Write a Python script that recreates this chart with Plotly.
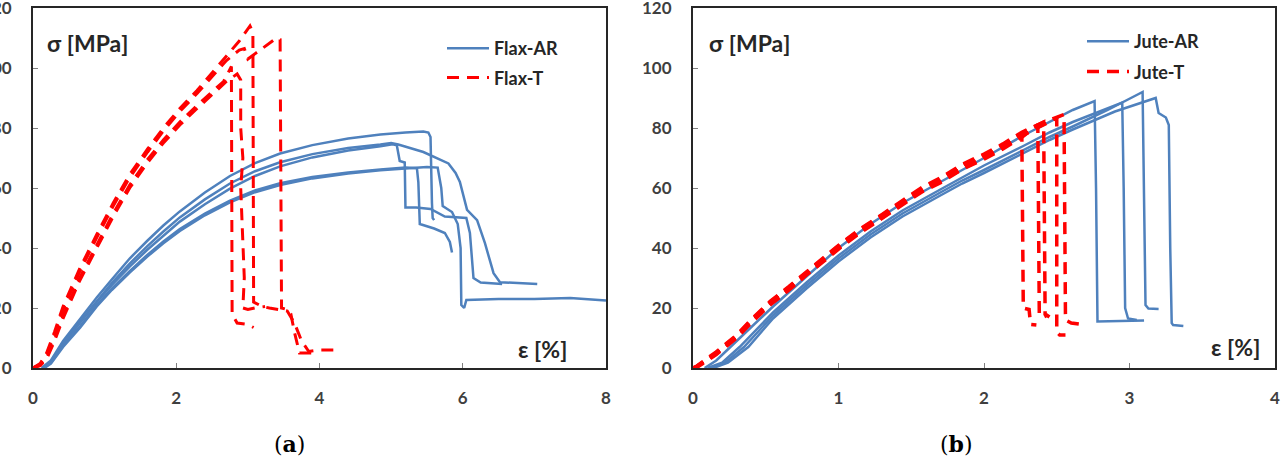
import plotly.graph_objects as go

W, H = 1285, 463

# ---------------- (a) Flax ----------------
flax_ar1_strain = [0.12, 0.25, 0.42, 0.66, 0.89, 1.1, 1.35, 1.6, 1.82, 2.05, 2.4, 2.75, 3.1, 3.45, 3.9, 4.4, 4.85, 5.2, 5.45, 5.52, 5.55, 5.57, 5.58, 5.6]
flax_ar1_stress = [0, 2.5, 9, 16.5, 23.5, 29.5, 36.5, 42.5, 47.5, 52.2, 58.5, 64, 68.3, 71.5, 74.3, 76.5, 77.8, 78.5, 78.8, 78.5, 77, 55, 50, 49.3]

flax_ar2_strain = [0.13, 0.25, 0.42, 0.66, 0.89, 1.1, 1.35, 1.6, 1.82, 2.05, 2.4, 2.75, 3.1, 3.45, 3.9, 4.4, 4.85, 5.0, 5.1, 5.45, 5.8, 5.9, 5.96, 6.06, 6.2, 6.31, 6.43, 6.52, 7.04]
flax_ar2_stress = [0, 2, 8.5, 15.5, 22.5, 28.3, 34.8, 40.7, 45.5, 50.2, 56.2, 61.5, 65.6, 68.6, 71.3, 73.3, 74.5, 75, 74.5, 72, 68.2, 65, 62, 52.7, 49.3, 41.6, 31.6, 28.6, 28]

flax_ar3_strain = [0.14, 0.25, 0.42, 0.66, 0.89, 1.1, 1.35, 1.6, 1.82, 2.05, 2.4, 2.75, 3.1, 3.45, 3.9, 4.4, 4.85, 5.02, 5.08, 5.12, 5.19, 5.2, 5.35, 5.55, 5.75, 6.05, 6.1, 6.15, 6.25, 6.55]
flax_ar3_stress = [0, 2, 8, 15, 22, 27.6, 33.8, 39.5, 44.2, 48.8, 54.6, 59.8, 64, 67.2, 70.2, 72.5, 73.9, 74.6, 74.2, 69, 68.5, 53.5, 53.5, 53, 50.5, 50, 45, 30, 28.5, 28]

flax_ar4_strain = [0.15, 0.25, 0.42, 0.66, 0.89, 1.1, 1.35, 1.6, 1.82, 2.05, 2.4, 2.75, 3.1, 3.45, 3.9, 4.4, 4.85, 5.2, 5.36, 5.38, 5.4, 5.6, 5.75, 5.82, 5.85]
flax_ar4_stress = [0, 1.7, 7.5, 14, 21, 26.5, 32.3, 37.8, 42.2, 46.3, 51.5, 55.8, 59.2, 61.6, 63.7, 65.2, 66.2, 66.8, 66.6, 62, 48, 46.5, 45, 42, 38.5]

flax_ar5_strain = [0.16, 0.25, 0.42, 0.66, 0.89, 1.1, 1.35, 1.6, 1.82, 2.05, 2.4, 2.75, 3.1, 3.45, 3.9, 4.4, 4.85, 5.2, 5.5, 5.65, 5.7, 5.72, 5.85, 5.93, 5.97, 5.98, 6.02, 6.05, 6.5, 7.0, 7.5, 8.0]
flax_ar5_stress = [0, 1.5, 7, 13.5, 20.5, 26, 31.8, 37.2, 41.6, 45.7, 50.9, 55.2, 58.6, 61, 63.2, 64.8, 65.9, 66.6, 67, 66.8, 60, 54, 52, 48, 40, 21, 20, 22.7, 23, 23, 23.3, 22.5]

flax_t1_strain = [0, 0.1, 0.19, 0.3, 0.42, 0.65, 0.89, 1.12, 1.35, 1.6, 1.82, 2.05, 2.29, 2.5, 2.7, 2.88, 3.03, 3.07, 3.08, 3.2, 3.3, 3.45, 3.55, 3.65, 3.75, 3.85, 4.0, 4.22]
flax_t1_stress = [0, 1.5, 5, 12, 20.5, 33, 44.5, 55, 64.5, 73, 80, 86.5, 92.5, 98.5, 104, 109, 114, 112, 22, 20.5, 20, 19.5, 19, 15, 9, 5.5, 6, 6]

flax_t2_strain = [0, 0.1, 0.19, 0.3, 0.42, 0.65, 0.89, 1.12, 1.35, 1.6, 1.82, 2.05, 2.29, 2.5, 2.7, 2.88, 2.95, 3.0, 3.2, 3.4, 3.45, 3.47, 3.55, 3.6, 3.65, 3.72, 3.9]
flax_t2_stress = [0, 1.2, 4.5, 11, 19.5, 32, 43.5, 54, 63.5, 72, 79, 85.5, 91.5, 97, 102.5, 106, 106.5, 103, 106.5, 110, 109.5, 20, 19.5, 18, 12, 5, 5]

flax_t3_strain = [0, 0.1, 0.19, 0.3, 0.42, 0.65, 0.89, 1.12, 1.35, 1.6, 1.82, 2.05, 2.29, 2.5, 2.66, 2.77, 2.78, 2.85, 3.0, 3.08]
flax_t3_stress = [0, 1, 3.5, 9.5, 17.5, 30, 41, 51.5, 61, 69.5, 76, 82, 87.5, 92, 95.5, 100.5, 18, 15, 14.5, 13.5]

flax_t4_strain = [0, 0.1, 0.19, 0.3, 0.42, 0.65, 0.89, 1.12, 1.35, 1.6, 1.82, 2.05, 2.29, 2.5, 2.7, 2.85, 2.9, 2.9, 2.93, 2.9, 2.93, 2.95, 2.93, 3.0, 3.1, 3.24]
flax_t4_stress = [0, 0.8, 3, 9, 16.5, 29, 40, 50.5, 60, 68.5, 75, 81, 86.5, 91, 95.5, 98, 96, 80, 70, 60, 45, 30, 20, 19.5, 20, 20.5]

# ---------------- (b) Jute ----------------
jute_ar1_strain = [0.08, 0.16, 0.3, 0.55, 0.78, 1.0, 1.22, 1.44, 1.7, 1.85, 2.0, 2.27, 2.45, 2.61, 2.76, 2.77, 2.78, 3.0, 3.1]
jute_ar1_stress = [0, 2.5, 9, 20.5, 30.5, 40, 48, 55, 62, 66, 70, 77.5, 82, 86, 89, 60, 15.5, 15.7, 15.8]

jute_ar2_strain = [0.1, 0.2, 0.32, 0.55, 0.78, 1.0, 1.22, 1.44, 1.7, 1.85, 2.0, 2.27, 2.45, 2.61, 2.8, 2.95, 2.96, 2.97, 2.99, 3.05]
jute_ar2_stress = [0, 1.8, 7, 18.5, 28.5, 37.5, 45.5, 52.5, 59.5, 63.5, 67.5, 74, 78.5, 82, 85.5, 88.5, 60, 20, 16.5, 16]

jute_ar3_strain = [0.12, 0.22, 0.35, 0.55, 0.78, 1.0, 1.22, 1.44, 1.7, 1.85, 2.0, 2.27, 2.45, 2.61, 2.85, 3.09, 3.1, 3.11, 3.13, 3.2]
jute_ar3_stress = [0, 1.8, 7, 17.5, 27.5, 36.5, 44.5, 51.5, 58.5, 62.5, 66, 72.5, 77, 80.5, 86, 92, 60, 21, 19.8, 19.7]

jute_ar4_strain = [0.14, 0.24, 0.38, 0.55, 0.78, 1.0, 1.22, 1.44, 1.7, 1.85, 2.0, 2.27, 2.45, 2.61, 2.9, 3.18, 3.2, 3.25, 3.27, 3.28, 3.29, 3.3, 3.37]
jute_ar4_stress = [0, 1.8, 7, 16.5, 26.5, 35.5, 43.5, 50.5, 57.5, 61.5, 65, 71.5, 76, 79.5, 85.5, 90, 85, 83.5, 81, 40, 15, 14.3, 14]

jute_t1_strain = [0, 0.025, 0.16, 0.3, 0.41, 0.53, 0.66, 0.78, 0.9, 1.02, 1.16, 1.3, 1.44, 1.57, 1.71, 1.85, 2.0, 2.13, 2.26, 2.27, 2.31, 2.32, 2.36]
jute_t1_stress = [0, 0.4, 4.9, 10.4, 16, 21.6, 26.6, 31.6, 36.2, 41, 46, 50.4, 55, 59.3, 62.7, 67, 70.4, 73.8, 77.7, 20, 19.5, 14.5, 14.3]

jute_t2_strain = [0, 0.03, 0.16, 0.3, 0.41, 0.53, 0.66, 0.78, 0.9, 1.02, 1.16, 1.3, 1.44, 1.57, 1.71, 1.85, 2.0, 2.13, 2.26, 2.37, 2.38, 2.41, 2.43]
jute_t2_stress = [0, 0.3, 4.5, 10, 15.5, 21, 26, 31, 35.6, 40.4, 45.4, 49.8, 54.4, 58.6, 62, 66.2, 69.6, 73, 76.9, 81, 17.5, 17, 17.5]

jute_t3_strain = [0, 0.03, 0.16, 0.3, 0.41, 0.53, 0.66, 0.78, 0.9, 1.02, 1.16, 1.3, 1.44, 1.57, 1.71, 1.85, 2.0, 2.13, 2.26, 2.41, 2.42, 2.45]
jute_t3_stress = [0, 0.5, 5.2, 10.8, 16.4, 22, 27, 32, 36.7, 41.5, 46.5, 51, 55.6, 59.8, 63.3, 67.6, 71, 74.4, 78.3, 82, 18, 17]

jute_t4_strain = [0, 0.02, 0.16, 0.3, 0.41, 0.53, 0.66, 0.78, 0.9, 1.02, 1.16, 1.3, 1.44, 1.57, 1.71, 1.85, 2.0, 2.13, 2.26, 2.5, 2.5, 2.52, 2.56]
jute_t4_stress = [0, 0.4, 4.7, 10.2, 15.8, 21.3, 26.3, 31.3, 36, 40.7, 45.7, 50.1, 54.7, 59, 62.4, 66.7, 70.1, 73.5, 77.4, 83.3, 12, 11, 11]

jute_t5_strain = [0, 0.025, 0.16, 0.3, 0.41, 0.53, 0.66, 0.78, 0.9, 1.02, 1.16, 1.3, 1.44, 1.57, 1.71, 1.85, 2.0, 2.13, 2.26, 2.41, 2.55, 2.56, 2.6, 2.67]
jute_t5_stress = [0, 0.6, 5.4, 11, 16.6, 22.2, 27.2, 32.2, 36.9, 41.7, 46.7, 51.2, 55.8, 60.1, 63.6, 67.9, 71.3, 74.7, 78.6, 82, 84.5, 16, 15, 14.5]

x_ticks_a = [0, 2, 4, 6, 8]
x_ticks_b = [0, 1, 2, 3, 4]
y_ticks = [0, 20, 40, 60, 80, 100, 120]

BLUE = "#4F81BD"
RED = "#FF0000"
DARK = "#262626"
TICK_COL = "#3F3F3F"

fig = go.Figure()

def add_set(curves, name, color, dash, width, xa, ya, legend):
    for i, (sx, sy) in enumerate(curves):
        fig.add_trace(go.Scatter(
            x=sx, y=sy, mode="lines", name=name,
            line=dict(color=color, width=width, dash=dash),
            xaxis=xa, yaxis=ya, legend=legend, legendgroup=name,
            showlegend=(i == 0), hoverinfo="skip"))

add_set([(flax_ar1_strain, flax_ar1_stress), (flax_ar2_strain, flax_ar2_stress),
         (flax_ar3_strain, flax_ar3_stress), (flax_ar4_strain, flax_ar4_stress),
         (flax_ar5_strain, flax_ar5_stress)], "Flax-AR", BLUE, "solid", 2.5, "x", "y", "legend")
add_set([(flax_t1_strain, flax_t1_stress), (flax_t2_strain, flax_t2_stress),
         (flax_t3_strain, flax_t3_stress), (flax_t4_strain, flax_t4_stress)],
        "Flax-T", RED, "12px,8px", 3, "x", "y", "legend")
add_set([(jute_ar1_strain, jute_ar1_stress), (jute_ar2_strain, jute_ar2_stress),
         (jute_ar3_strain, jute_ar3_stress), (jute_ar4_strain, jute_ar4_stress)],
        "Jute-AR", BLUE, "solid", 2.5, "x2", "y2", "legend2")
add_set([(jute_t1_strain, jute_t1_stress), (jute_t2_strain, jute_t2_stress),
         (jute_t3_strain, jute_t3_stress), (jute_t4_strain, jute_t4_stress),
         (jute_t5_strain, jute_t5_stress)], "Jute-T", RED, "12px,8px", 3.5, "x2", "y2", "legend2")

def px_x(p):
    return p / W

def px_y(p):
    return (H - p) / H

tickfont = dict(family="Lato", size=17, color=TICK_COL, weight="bold")
common_x = dict(showgrid=False, zeroline=False, showline=True, mirror=True, linewidth=2,
                linecolor=DARK, ticks="inside", ticklen=5, tickwidth=1, tickcolor="#7F7F7F",
                tickfont=tickfont, ticklabelstandoff=14, automargin=False,
                ticklabeloverflow="allow")
common_y = dict(showgrid=False, zeroline=False, showline=True, mirror=True, linewidth=2,
                linecolor=DARK, ticks="inside", ticklen=5, tickwidth=1, tickcolor="#7F7F7F",
                tickfont=tickfont, ticklabelstandoff=16, range=[0, 120], automargin=False,
                ticklabeloverflow="allow",
                tickvals=y_ticks, domain=[px_y(368), px_y(8)])

legfont = dict(family="Lato", size=18, color=DARK, weight="bold")
fig.update_layout(
    template="none",
    width=W, height=H, margin=dict(l=0, r=0, t=0, b=0, pad=0),
    paper_bgcolor="white", plot_bgcolor="white",
    xaxis=dict(common_x, domain=[px_x(33), px_x(606)], range=[0, 8], tickvals=x_ticks_a, anchor="y"),
    yaxis=dict(common_y, anchor="x"),
    xaxis2=dict(common_x, domain=[px_x(693), px_x(1275)], range=[0, 4], tickvals=x_ticks_b, anchor="y2"),
    yaxis2=dict(common_y, anchor="x2"),
    legend=dict(x=px_x(442), y=px_y(30), xanchor="left", yanchor="top", bgcolor="rgba(0,0,0,0)",
                font=legfont, itemwidth=42, tracegroupgap=3),
    legend2=dict(x=px_x(1082), y=px_y(23), xanchor="left", yanchor="top", bgcolor="rgba(0,0,0,0)",
                 font=legfont, itemwidth=42, tracegroupgap=4),
)

lab = dict(family="Lato", size=23, color=DARK, weight="bold")
annots = [
    dict(text="σ [MPa]", x=px_x(45), y=px_y(43)),
    dict(text="σ [MPa]", x=px_x(707), y=px_y(43)),
    dict(text="ε [%]", x=px_x(516), y=px_y(349)),
    dict(text="ε [%]", x=px_x(1209), y=px_y(347)),
]
for a in annots:
    fig.add_annotation(xref="paper", yref="paper", xanchor="left", yanchor="middle",
                       showarrow=False, font=lab, **a)

cap = dict(family="DejaVu Serif", size=22, color="black")
fig.add_annotation(text="(<b>a</b>)", x=px_x(289), y=px_y(444), xref="paper", yref="paper",
                   xanchor="center", yanchor="middle", showarrow=False, font=cap)
fig.add_annotation(text="(<b>b</b>)", x=px_x(956), y=px_y(444), xref="paper", yref="paper",
                   xanchor="center", yanchor="middle", showarrow=False, font=cap)

fig.write_html("out.html")
